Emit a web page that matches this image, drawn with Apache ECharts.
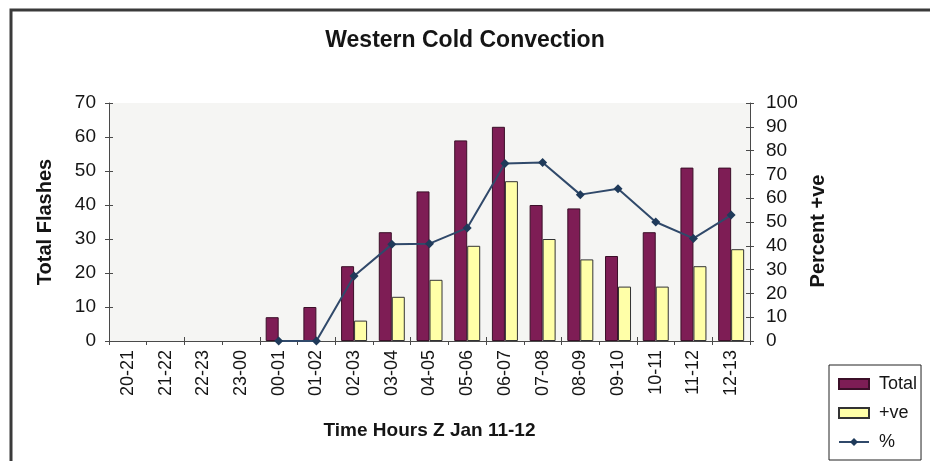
<!DOCTYPE html>
<html>
<head>
<meta charset="utf-8">
<style>
  html, body { margin: 0; padding: 0; background: #ffffff; }
  #chart { width: 930px; height: 461px; }
</style>
<script src="https://cdn.jsdelivr.net/npm/echarts@6/dist/echarts.min.js"></script>
</head>
<body>
<div id="chart"></div>
<script>
// Hourly lightning flash counts, western cold-air convection event
const hours = ['20-21', '21-22', '22-23', '23-00', '00-01', '01-02', '02-03', '03-04',
               '04-05', '05-06', '06-07', '07-08', '08-09', '09-10', '10-11', '11-12', '12-13'];
const totalFlashes = [0, 0, 0, 0, 7, 10, 22, 32, 44, 59, 63, 40, 39, 25, 32, 51, 51];
const positiveFlashes = [0, 0, 0, 0, 0, 0, 6, 13, 18, 28, 47, 30, 24, 16, 16, 22, 27];
const percentPositive = [null, null, null, null, 0, 0, 27.3, 40.6, 40.9, 47.5, 74.6, 75, 61.5, 64, 50, 43.1, 52.9];
const leftTicks = { min: 0, max: 70, interval: 10 };
const rightTicks = { min: 0, max: 100, interval: 10 };

const FONT = 'Liberation Sans, Arial, sans-serif';
const AXIS_COLOR = '#4a4a4a';
const TEXT_COLOR = '#151515';

// empty hours get no outline, so nothing shows on the axis
function barData(values) {
  return values.map(v => v === 0 ? { value: v, itemStyle: { borderWidth: 0 } } : v);
}

// hidden twin axes give ticks that cross the axis line
function twinY(position, ticks) {
  return {
    type: 'value', position: position, min: ticks.min, max: ticks.max, interval: ticks.interval,
    axisLine: { show: false },
    axisTick: { show: true, inside: true, length: 4, lineStyle: { color: AXIS_COLOR } },
    axisLabel: { show: false }, splitLine: { show: false }
  };
}

const chart = echarts.init(document.getElementById('chart'));

chart.setOption({
  animation: false,
  backgroundColor: '#ffffff',
  title: {
    text: 'Western Cold Convection',
    left: 'center', top: 24,
    textStyle: { fontFamily: FONT, fontSize: 23, fontWeight: 'bold', color: TEXT_COLOR }
  },
  graphic: [{
    type: 'rect', silent: true, z: -1,
    shape: { x: 11, y: 10, width: 1000, height: 600 },
    style: { fill: 'none', stroke: '#3a3a3a', lineWidth: 3 }
  }],
  grid: {
    left: 109, right: 180, top: 103, bottom: 120,
    show: true, backgroundColor: '#f5f5f3', borderWidth: 0
  },
  legend: {
    orient: 'vertical', left: 829, top: 365,
    padding: [10, 4, 9, 9], itemGap: 11,
    itemWidth: 30, itemHeight: 10,
    borderColor: '#222', borderWidth: 1,
    backgroundColor: '#ffffff',
    textStyle: { fontFamily: FONT, fontSize: 18, color: TEXT_COLOR, padding: [0, 0, 0, 5] },
    data: [{ name: 'Total', icon: 'rect' }, { name: '+ve', icon: 'rect' }, { name: '%' }]
  },
  xAxis: [{
    type: 'category', data: hours, boundaryGap: true,
    name: 'Time Hours Z Jan 11-12', nameLocation: 'middle', nameGap: 80,
    nameTextStyle: { fontFamily: FONT, fontSize: 19, fontWeight: 'bold', color: TEXT_COLOR },
    axisLine: { lineStyle: { color: AXIS_COLOR, width: 1 } },
    axisTick: { show: true, length: 4, lineStyle: { color: AXIS_COLOR } },
    axisLabel: { rotate: 90, margin: 9, fontFamily: FONT, fontSize: 18, color: TEXT_COLOR, interval: 0 }
  }, {
    type: 'category', data: hours, position: 'bottom', boundaryGap: true,
    axisLine: { show: false },
    axisTick: { show: true, inside: true, length: 4, lineStyle: { color: AXIS_COLOR } },
    axisLabel: { show: false }
  }],
  yAxis: [{
    type: 'value', position: 'left',
    min: leftTicks.min, max: leftTicks.max, interval: leftTicks.interval,
    name: 'Total Flashes', nameLocation: 'middle', nameGap: 54, nameRotate: 90,
    nameTextStyle: { fontFamily: FONT, fontSize: 20, fontWeight: 'bold', color: TEXT_COLOR },
    axisLine: { show: true, lineStyle: { color: AXIS_COLOR, width: 1 } },
    axisTick: { show: true, length: 4, lineStyle: { color: AXIS_COLOR } },
    axisLabel: { margin: 13, fontFamily: FONT, fontSize: 19, color: TEXT_COLOR },
    splitLine: { show: false }
  }, {
    type: 'value', position: 'right',
    min: rightTicks.min, max: rightTicks.max, interval: rightTicks.interval,
    name: 'Percent +ve', nameLocation: 'middle', nameGap: 52, nameRotate: 90,
    nameTextStyle: { fontFamily: FONT, fontSize: 20, fontWeight: 'bold', color: TEXT_COLOR, padding: [0, 18, 0, 0] },
    axisLine: { show: true, lineStyle: { color: AXIS_COLOR, width: 1 } },
    axisTick: { show: true, length: 4, lineStyle: { color: AXIS_COLOR } },
    axisLabel: { margin: 16, fontFamily: FONT, fontSize: 19, color: TEXT_COLOR },
    splitLine: { show: false }
  }, twinY('left', leftTicks), twinY('right', rightTicks)],
  series: [{
    name: 'Total', type: 'bar', xAxisIndex: 0, yAxisIndex: 0,
    data: barData(totalFlashes), barWidth: 13, barGap: '0%',
    itemStyle: { color: '#7e1d55', borderColor: '#3b0f28', borderWidth: 1 }
  }, {
    name: '+ve', type: 'bar', xAxisIndex: 0, yAxisIndex: 0,
    data: barData(positiveFlashes), barWidth: 13, barGap: '0%',
    itemStyle: { color: '#ffffa8', borderColor: '#333333', borderWidth: 1 }
  }, {
    name: '%', type: 'line', xAxisIndex: 0, yAxisIndex: 1,
    data: percentPositive,
    symbol: 'diamond', symbolSize: 9,
    lineStyle: { color: '#30496a', width: 2 },
    itemStyle: { color: '#1f3a5a' }
  }]
});
</script>
</body>
</html>
